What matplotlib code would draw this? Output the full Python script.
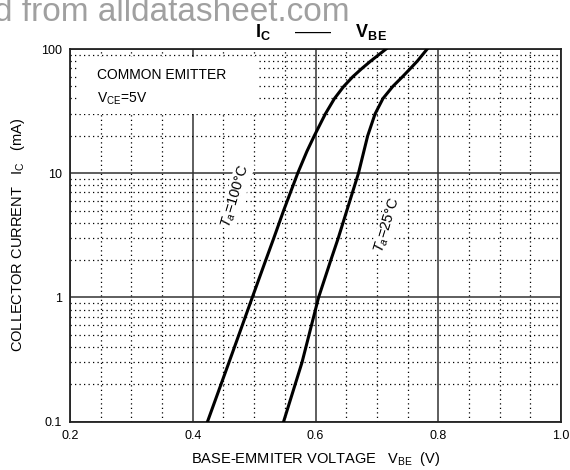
import numpy as np
import matplotlib
matplotlib.use("Agg")
import matplotlib.pyplot as plt
from matplotlib.ticker import FixedLocator, NullFormatter
from matplotlib.patches import Rectangle

plt.rcParams['font.family'] = ['Liberation Sans', 'DejaVu Sans']
plt.rcParams['mathtext.fontset'] = 'custom'
plt.rcParams['mathtext.rm'] = 'Liberation Sans'
plt.rcParams['mathtext.it'] = 'Liberation Sans:italic'
plt.rcParams['mathtext.bf'] = 'Liberation Sans:bold'

# Data
ic_100c = [0.1, 0.3, 1, 2, 3, 5, 10, 15, 20, 30, 40, 50, 60, 70, 80, 100]
vbe_100c = [0.424, 0.459, 0.497, 0.519, 0.532, 0.548, 0.571, 0.586, 0.598, 0.616,
            0.631, 0.646, 0.661, 0.676, 0.690, 0.715]
ic_25c = [0.1, 0.3, 1, 2, 3, 5, 10, 20, 30, 40, 50, 60, 70, 80, 100]
vbe_25c = [0.548, 0.578, 0.605, 0.625, 0.637, 0.651, 0.670, 0.685, 0.697,
           0.710, 0.726, 0.742, 0.755, 0.766, 0.782]
x_ticks = [0.2, 0.4, 0.6, 0.8, 1.0]
x_tick_labels = ["0.2", "0.4", "0.6", "0.8", "1.0"]
y_ticks = [0.1, 1, 10, 100]
y_tick_labels = ["0.1", "1", "10", "100"]

fig = plt.figure(figsize=(5.7, 4.7), dpi=100)
ax = fig.add_axes([70/570, 1-421.7/470, 491/570, (421.7-49)/470])

ax.set_yscale('log')
ax.set_xlim(0.2, 1.0)
ax.set_ylim(0.1, 100)

ax.xaxis.set_major_locator(FixedLocator(x_ticks))
ax.set_xticklabels(x_tick_labels)
ax.yaxis.set_major_locator(FixedLocator(y_ticks))
ax.set_yticklabels(y_tick_labels)
ax.xaxis.set_minor_locator(FixedLocator([0.2 + 0.05*i for i in range(17)]))
minor_y = [m * 10.0**d for d in (-1, 0, 1) for m in range(2, 10)]
ax.yaxis.set_minor_locator(FixedLocator(minor_y))
ax.yaxis.set_minor_formatter(NullFormatter())

ax.tick_params(which='both', length=0, labelsize=9, colors='black')
ax.tick_params(axis='x', pad=6)
ax.tick_params(axis='y', pad=6)

ax.grid(which='minor', color='black', linestyle=(0, (1, 2.6)), linewidth=0.9)
ax.grid(which='major', color='#333333', linestyle='-', linewidth=1.1)
ax.set_axisbelow(True)
for s in ax.spines.values():
    s.set_linewidth(1.3)
    s.set_color('#222222')

ax.plot(vbe_100c, ic_100c, color='black', linewidth=2.2, zorder=4)
ax.plot(vbe_25c, ic_25c, color='black', linewidth=2.2, zorder=4)

# white box behind the condition text
ax.add_patch(Rectangle((0.014, 0.826), 0.37, 0.153, transform=ax.transAxes,
                       facecolor='white', edgecolor='none', zorder=2))
ax.text(0.055, 0.950, "COMMON EMITTER", transform=ax.transAxes, fontsize=10,
        va='top', ha='left', zorder=3)
ax.text(0.055, 0.888, r"V$_{\mathrm{CE}}$=5V", transform=ax.transAxes, fontsize=10,
        va='top', ha='left', zorder=3)

lab_kw = dict(fontsize=10.5, rotation=73, ha='center', va='center', zorder=3,
              rotation_mode='anchor',
              bbox=dict(facecolor='white', edgecolor='none', pad=1.0))
ax.text(0.470, 6.6, r"$T_{a}$=100°C", **lab_kw)
ax.text(0.718, 3.8, r"$T_{a}$=25°C", **lab_kw)

ax.set_xlabel(r"BASE-EMMITER VOLTAGE   V$_{\mathrm{BE}}$  (V)", fontsize=10.5, labelpad=6)
ax.set_ylabel(r"COLLECTOR CURRENT   I$_{\mathrm{C}}$   (mA)", fontsize=10.5, labelpad=10)

fig.text(321/570, 1-32/470, r"$\mathbf{I_{C}}$     ——     $\mathbf{V_{BE}}$",
         fontsize=13, ha='center', va='center')
fig.text(-6/570, 1-21/470, "d from alldatasheet.com", fontsize=24,
         color='#a0a0a0', ha='left', va='baseline')

fig.savefig("out.png", dpi=100)
